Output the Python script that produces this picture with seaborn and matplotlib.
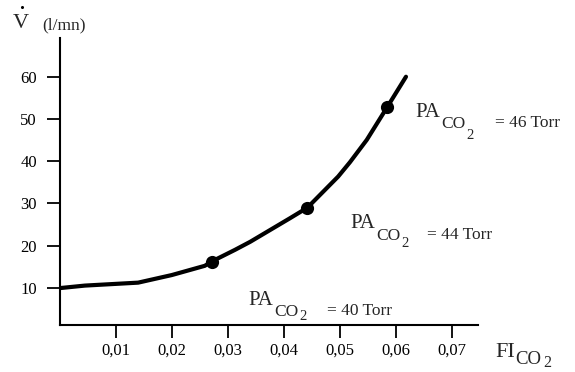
import numpy as np
import pandas as pd
import matplotlib.pyplot as plt
import seaborn as sns

# ventilation response curve
fi_co2 = [0.0, 0.0045, 0.014, 0.020, 0.0259, 0.0271, 0.0313, 0.034,
          0.0411, 0.0442, 0.0497, 0.0518, 0.0548, 0.0585, 0.0618]
v_dot = [9.9, 10.5, 11.2, 13.0, 15.2, 16.2, 19.0, 20.9,
         26.5, 29.0, 36.4, 39.8, 45.1, 53.0, 60.1]

# marked points and their PA_CO2 labels
pt_fi = [0.0271, 0.0442, 0.0585]
pt_v = [16.2, 29.0, 53.0]
pa_labels = ["= 40 Torr", "= 44 Torr", "= 46 Torr"]

x_ticks = [0.01, 0.02, 0.03, 0.04, 0.05, 0.06, 0.07]
x_tick_labels = ["0,01", "0,02", "0,03", "0,04", "0,05", "0,06", "0,07"]
y_ticks = [10, 20, 30, 40, 50, 60]

sns.set_style("ticks")
plt.rcParams["font.family"] = ["Liberation Serif", "DejaVu Serif"]

curve = pd.DataFrame({"fi": fi_co2, "v": v_dot})
pts = pd.DataFrame({"fi": pt_fi, "v": pt_v})

W, H = 575, 372
fig = plt.figure(figsize=(5.75, 3.72), dpi=100)
ax = fig.add_axes([59.7 / W, 1 - 325 / H, (477.7 - 59.7) / W, (325 - 38) / H])

sns.lineplot(data=curve, x="fi", y="v", color="black", linewidth=3.0, ax=ax)
sns.scatterplot(data=pts, x="fi", y="v", color="black", s=90, linewidth=0,
                zorder=3, ax=ax)

ax.set_xlim(0, 0.0746)
ax.set_ylim(1.14, 69.3)
ax.set_xticks(x_ticks)
ax.set_xticklabels(x_tick_labels)
ax.set_yticks(y_ticks)
ax.tick_params(axis="both", labelsize=12, length=9.5, width=1.3, color="black",
               labelcolor="black")
ax.tick_params(axis="x", pad=3)
ax.tick_params(axis="y", pad=7)
ax.set_xlabel("")
ax.set_ylabel("")
for side in ["top", "right"]:
    ax.spines[side].set_visible(False)
for side in ["left", "bottom"]:
    ax.spines[side].set_linewidth(1.5)
    ax.spines[side].set_color("black")

renderer = fig.canvas.get_renderer()


def put(px, py, s, size):
    # place text by its left edge and baseline, in pixels from top-left;
    # returns the pixel x of its right edge
    t = fig.text(px / W, 1 - py / H, s, fontsize=size, ha="left", va="baseline")
    return t.get_window_extent(renderer).x1


def put_sub(px, py, main, size, sub_dy, two_dy):
    # "main" followed by subscript CO and a lower 2
    x = put(px, py, main, size)
    x = put(x + 1, py + sub_dy, "CO", size - 2.5)
    return put(x + 1, py + two_dy, "2", size - 4.5)


# axis titles; the dot over V is drawn as a tiny marker
put(13, 28, "V", 16)
fig.add_artist(plt.Line2D([22 / W], [1 - 7 / H], marker="o", markersize=1.2,
                          color="black", transform=fig.transFigure))
put(42, 29, "(l/mn)", 12.5)
put_sub(495, 357, "FI", 16, 7, 10)

# PA_CO2 annotations
label_px = [(248, 305, 11, 15, 327, 315),
            (350, 228, 12, 19, 427, 239),
            (415, 117, 11, 22, 495, 127)]
for (px, py, sdy, tdy, ex, ey), lab in zip(label_px, pa_labels):
    put_sub(px, py, "PA", 15, sdy, tdy)
    put(ex, ey, lab, 12.5)

fig.savefig("out.png", dpi=100, facecolor="white")
